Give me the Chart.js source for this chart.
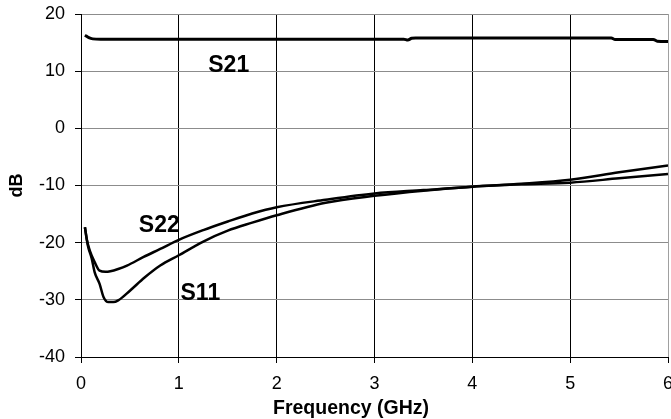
<!DOCTYPE html>
<html><head><meta charset="utf-8">
<script src="https://cdn.jsdelivr.net/npm/chart.js@4/dist/chart.umd.min.js"></script>
<style>html,body{margin:0;padding:0;overflow:hidden;background:#fff}#wrap{width:671px;height:419px;position:relative}</style>
</head><body><div id="wrap"><canvas id="c" width="671" height="419"></canvas></div>
<script>
// ---- data ----
const xTickValues = [0, 1, 2, 3, 4, 5, 6];
const yTickValues = [-40, -30, -20, -10, 0, 10, 20];

const s21Freq = [0.04, 0.08, 0.12, 0.2, 0.5, 1, 2, 3, 3.3, 3.34, 3.38, 3.42, 4, 5, 5.42, 5.46, 5.85, 5.89, 6];
const s21Db   = [16.3, 15.85, 15.65, 15.6, 15.6, 15.6, 15.6, 15.6, 15.6, 15.45, 15.75, 15.8, 15.8, 15.8, 15.8, 15.55, 15.55, 15.25, 15.2];

const s11Freq = [0.04, 0.07, 0.11, 0.14, 0.19, 0.23, 0.28, 0.33, 0.38, 0.5, 0.65, 0.81, 1.0, 1.25, 1.5, 1.75, 2.0, 2.5, 3.0, 3.5, 4.0, 4.5, 5.0, 5.5, 6.0];
const s11Db   = [-17.3, -20.5, -22.8, -25.2, -27.2, -29.5, -30.4, -30.4, -30.1, -28.4, -26.1, -24.0, -22.2, -19.8, -17.9, -16.5, -15.2, -13.0, -11.8, -10.9, -10.2, -9.7, -9.0, -7.7, -6.5];

const s22Freq = [0.04, 0.06, 0.09, 0.14, 0.19, 0.25, 0.3, 0.38, 0.47, 0.64, 0.81, 1.0, 1.25, 1.5, 1.75, 2.0, 2.5, 3.0, 3.5, 4.0, 4.5, 5.0, 5.5, 6.0];
const s22Db   = [-17.3, -19.5, -21.4, -23.4, -24.9, -25.1, -25.0, -24.6, -24.0, -22.5, -21.1, -19.5, -17.8, -16.3, -14.9, -13.8, -12.5, -11.4, -10.8, -10.2, -9.8, -9.5, -8.75, -8.0];

const seriesLabels = [
  {text: 'S21', x: 1.51, y: 10.9},
  {text: 'S22', x: 0.80, y: -17.0},
  {text: 'S11', x: 1.22, y: -28.9}
];
const xTitle = 'Frequency (GHz)';
const yTitle = 'dB';

const pts = (xs, ys) => xs.map((v, i) => ({x: v, y: ys[i]}));
const FONT = '"Liberation Sans", Arial, sans-serif';

const labelPlugin = {
  id: 'labels',
  afterDatasetsDraw(chart) {
    const {ctx, scales: {x, y}, chartArea} = chart;
    ctx.save();
    ctx.fillStyle = '#000';
    ctx.font = 'bold 23px ' + FONT;
    ctx.textAlign = 'center';
    ctx.textBaseline = 'middle';
    seriesLabels.forEach(l => ctx.fillText(l.text, x.getPixelForValue(l.x), y.getPixelForValue(l.y)));
    ctx.font = 'bold 19.5px ' + FONT;
    ctx.textBaseline = 'alphabetic';
    ctx.fillText(xTitle, chartArea.left + (chartArea.right - chartArea.left) * 0.46, 413.5);
    ctx.restore();
  }
};

const lineDs = (label, data, w) => ({
  label, data, borderColor: '#000', borderWidth: w, pointRadius: 0,
  fill: false, cubicInterpolationMode: 'monotone'
});

new Chart(document.getElementById('c'), {
  type: 'line',
  data: {
    datasets: [
      lineDs('S21', pts(s21Freq, s21Db), 3),
      lineDs('S11', pts(s11Freq, s11Db), 2.5),
      lineDs('S22', pts(s22Freq, s22Db), 2.5)
    ]
  },
  options: {
    responsive: false,
    animation: false,
    devicePixelRatio: 1,
    layout: {padding: {top: 14, left: 0, right: 0, bottom: 0}},
    plugins: {legend: {display: false}, tooltip: {enabled: false}},
    scales: {
      x: {
        type: 'linear', min: 0, max: 6,
        afterBuildTicks: s => { s.ticks = xTickValues.map(v => ({value: v})); },
        ticks: {font: {size: 18, family: FONT}, color: '#000', padding: 10, maxRotation: 0},
        grid: {
          color: c => (c.tick && c.tick.value === 6) ? '#a0a0a0' : '#000',
          lineWidth: 1, tickLength: 6, tickColor: '#000'
        },
        border: {color: '#000', width: 1},
        afterFit: s => { s.height = 62; s.paddingRight = 3; s.paddingTop = 0; }
      },
      y: {
        min: -40, max: 20,
        afterBuildTicks: s => { s.ticks = yTickValues.map(v => ({value: v})); },
        ticks: {font: {size: 18, family: FONT}, color: '#000', padding: 10},
        grid: {
          color: c => (c.tick && c.tick.value === -40) ? '#000' : '#8c8c8c',
          lineWidth: 1, tickLength: 6, tickColor: '#000'
        },
        border: {color: '#000', width: 1},
        title: {display: true, text: yTitle, font: {size: 18, weight: 'bold', family: FONT}, color: '#000', padding: {top: 6, bottom: 0}},
        afterFit: s => { s.width = 81; s.paddingTop = 0; s.paddingBottom = 0; }
      }
    }
  },
  plugins: [labelPlugin]
});
</script>
</body></html>
